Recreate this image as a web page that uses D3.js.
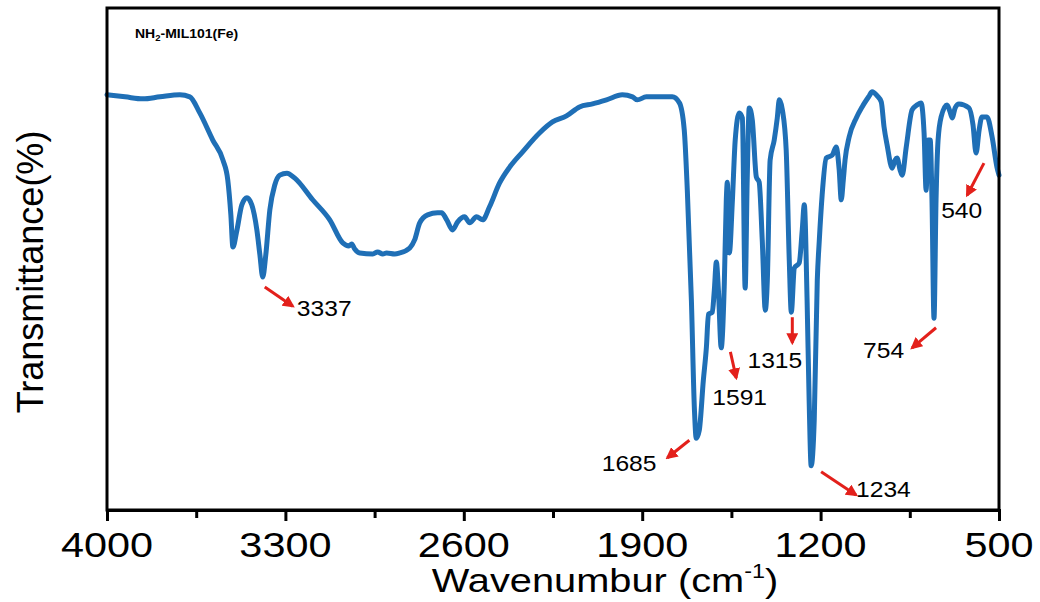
<!DOCTYPE html>
<html>
<head>
<meta charset="utf-8">
<script src="https://cdn.jsdelivr.net/npm/d3@7"></script>
<style>
  body { margin: 0; background: #fff; }
  text { font-family: "Liberation Sans", Arial, sans-serif; fill: #000; }
</style>
</head>
<body>
<div id="chart"></div>
<script>
// FTIR spectrum
var wavenumber = [4000, 3929, 3859, 3792, 3714, 3675, 3636, 3585, 3545, 3526, 3514, 3506, 3490, 3471, 3451, 3432, 3412, 3400, 3389, 3377,
    3361, 3342, 3322, 3294, 3263, 3193, 3126, 3075, 3051, 3040, 3028, 3008, 2957, 2938, 2918, 2903, 2871, 2852, 2812, 2793,
    2773, 2742, 2703, 2687, 2667, 2644, 2624, 2597, 2577, 2550, 2526, 2499, 2460, 2420, 2370, 2303, 2252, 2197, 2146, 2095,
    2040, 1978, 1938, 1919, 1884, 1833, 1782, 1754, 1735, 1723, 1707, 1695, 1688, 1676, 1660, 1648, 1640, 1625, 1617, 1609,
    1601, 1590, 1578, 1570, 1566, 1558, 1546, 1535, 1519, 1507, 1496, 1488, 1480, 1468, 1452, 1441, 1429, 1417, 1409, 1398,
    1382, 1370, 1362, 1350, 1335, 1323, 1315, 1303, 1284, 1272, 1264, 1253, 1245, 1237, 1225, 1213, 1205, 1194, 1178, 1154,
    1139, 1127, 1119, 1111, 1104, 1088, 1060, 1037, 1009, 998, 978, 962, 951, 939, 919, 908, 900, 888, 880, 864,
    841, 821, 806, 794, 786, 778, 770, 763, 755, 747, 739, 727, 704, 692, 684, 672, 657, 618, 602, 590,
    578, 567, 547, 527, 508, 500];
var transmittance = [82.7, 82.3, 81.9, 82.3, 82.7, 82.3, 79.1, 73.7, 69.7, 65.7, 58.8, 52.4, 55.8, 60.8, 62.2, 60.8, 55.8, 50.8, 46.4, 50.8,
    59.8, 64.7, 66.7, 67.1, 66.1, 61.8, 57.8, 53.2, 52.6, 53.0, 52.0, 51.2, 51.0, 51.4, 51.0, 51.2, 51.0, 51.2, 52.2, 53.8,
    57.2, 58.8, 59.2, 59.2, 57.8, 55.8, 57.4, 58.4, 57.2, 58.4, 57.8, 60.4, 65.1, 68.3, 71.3, 75.1, 77.3, 78.5, 80.3, 80.9,
    81.7, 82.7, 82.3, 81.7, 82.3, 82.3, 82.3, 81.1, 75.7, 63.7, 41.8, 19.9, 14.3, 15.9, 25.9, 32.5, 39.0, 39.4, 43.8, 49.4,
    43.8, 32.3, 44.8, 61.8, 65.3, 51.2, 61.8, 73.7, 79.1, 78.1, 44.2, 65.7, 80.1, 77.7, 66.3, 65.3, 53.8, 39.8, 45.8, 69.7,
    73.7, 78.1, 81.7, 79.7, 71.7, 49.8, 39.4, 48.2, 49.2, 55.8, 60.8, 41.8, 21.9, 8.8, 17.9, 45.8, 53.8, 62.7, 70.1, 70.7,
    72.3, 67.7, 61.8, 65.7, 69.7, 74.3, 78.1, 80.3, 82.5, 83.3, 82.5, 81.3, 76.3, 72.7, 68.1, 69.7, 70.1, 67.7, 66.7, 72.3,
    79.7, 80.7, 81.1, 75.1, 63.7, 73.7, 73.7, 61.8, 38.2, 61.8, 73.7, 78.3, 80.7, 79.3, 78.1, 80.1, 80.9, 80.1, 76.7, 71.1,
    75.7, 78.3, 78.3, 74.3, 68.3, 66.7];

var majorTicks = [4000, 3300, 2600, 1900, 1200, 500];
var minorTicks = [3650, 2950, 2250, 1550, 850];

// peak annotations: arrow start, arrow end, label anchor (in data units)
var peakLabels = ["3337", "1685", "1591", "1315", "1234", "754", "540"];
var arrowFrom = [[3381, 44.4], [1715, 13.9], [1554, 31.5], [1311, 38.4], [1198, 7.6], [747, 36.3], [559, 69.1]];
var arrowTo = [[3271, 40.6], [1801, 10.4], [1531, 26.3], [1311, 33.3], [1061, 3.0], [841, 32.3], [625, 62.7]];
var labelAt = [[3255, 38.6], [1844, 7.8], [1625, 20.9], [1272, 28.3], [1061, 2.6], [872, 30.3], [727, 58.2]];
var labelAnchor = ["start", "end", "start", "end", "start", "end", "start"];

var width = 1040, height = 602;
var padLeft = 107, padRight = 999, padTop = 8, padBottom = 510;
var sx = 1.12; // text in the source is a little wide

var svg = d3.select("#chart").append("svg")
    .attr("width", width)
    .attr("height", height);

var x = d3.scaleLinear().domain([4000, 500]).range([padLeft, padRight]);
var y = d3.scaleLinear().domain([0, 100]).range([padBottom, padTop]);

function place(sel, px, py, stretch) {
    return sel.attr("transform", "translate(" + px + "," + py + ") scale(" + (stretch || sx) + ",1)");
}

// spectrum line
var data = wavenumber.map(function(w, i) { return { w: w, t: transmittance[i] }; });
var line = d3.line()
    .x(function(d) { return x(d.w); })
    .y(function(d) { return y(d.t); })
    .curve(d3.curveMonotoneX);

svg.append("path")
    .datum(data)
    .attr("fill", "none")
    .attr("stroke", "#1f6fb6")
    .attr("stroke-width", 5)
    .attr("stroke-linejoin", "round")
    .attr("stroke-linecap", "round")
    .attr("d", line);

// frame
svg.append("rect")
    .attr("x", padLeft)
    .attr("y", padTop)
    .attr("width", padRight - padLeft)
    .attr("height", padBottom - padTop)
    .attr("fill", "none")
    .attr("stroke", "#000")
    .attr("stroke-width", 3);

// x axis, major and minor ticks
var xAxis = svg.append("g")
    .attr("transform", "translate(0," + padBottom + ")")
    .call(d3.axisBottom(x).tickValues(majorTicks).tickSize(11).tickFormat(""));
xAxis.select(".domain").attr("stroke-width", 3);
xAxis.selectAll(".tick line").attr("stroke-width", 3);

var xMinor = svg.append("g")
    .attr("transform", "translate(0," + padBottom + ")")
    .call(d3.axisBottom(x).tickValues(minorTicks).tickSize(8).tickFormat(""));
xMinor.select(".domain").remove();
xMinor.selectAll(".tick line").attr("stroke-width", 3);

majorTicks.forEach(function(t) {
    place(svg.append("text"), x(t), 557, 1.15)
        .attr("text-anchor", "middle")
        .attr("font-size", 36)
        .text(t);
});

// axis titles
var xTitle = place(svg.append("text"), 605, 592, 1.17)
    .attr("text-anchor", "middle")
    .attr("font-size", 34);
xTitle.append("tspan").text("Wavenumbur (cm");
xTitle.append("tspan").attr("font-size", 20).attr("dy", -14).text("-1");
xTitle.append("tspan").attr("dy", 14).text(")");

svg.append("text")
    .attr("transform", "translate(43,272) rotate(-90)")
    .attr("text-anchor", "middle")
    .attr("font-size", 36)
    .text("Transmittance(%)");

// sample name
var sampleName = place(svg.append("text"), 135, 38)
    .attr("font-size", 12.5)
    .attr("font-weight", "bold");
sampleName.append("tspan").text("NH");
sampleName.append("tspan").attr("font-size", 8.5).attr("dy", 3).text("2");
sampleName.append("tspan").attr("dy", -3).text("-MIL101(Fe)");

// red arrows
svg.append("defs").append("marker")
    .attr("id", "head")
    .attr("viewBox", "0 0 10 10")
    .attr("refX", 8)
    .attr("refY", 5)
    .attr("markerUnits", "userSpaceOnUse")
    .attr("markerWidth", 12)
    .attr("markerHeight", 12)
    .attr("orient", "auto")
    .append("path")
    .attr("d", "M0,0 L10,5 L0,10 Z")
    .attr("fill", "#e3201b");

peakLabels.forEach(function(lab, i) {
    svg.append("line")
        .attr("x1", x(arrowFrom[i][0]))
        .attr("y1", y(arrowFrom[i][1]))
        .attr("x2", x(arrowTo[i][0]))
        .attr("y2", y(arrowTo[i][1]))
        .attr("stroke", "#e3201b")
        .attr("stroke-width", 3)
        .attr("marker-end", "url(#head)");

    place(svg.append("text"), x(labelAt[i][0]), y(labelAt[i][1]))
        .attr("text-anchor", labelAnchor[i])
        .attr("font-size", 22)
        .text(lab);
});
</script>
</body>
</html>
